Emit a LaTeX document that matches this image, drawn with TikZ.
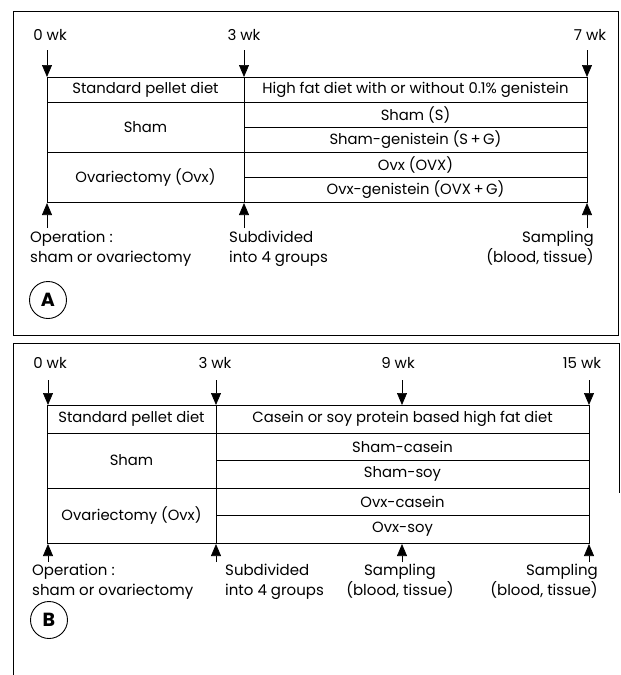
\documentclass[tikz,border=0pt]{standalone}
\usepackage{fontspec}
\setmainfont{Poppins}
\usetikzlibrary{arrows.meta}

\begin{document}
\begin{tikzpicture}[x=1pt,y=-1pt,
  cell/.style={font=\fontsize{14.8}{16}\selectfont, inner sep=0pt},
  lab/.style={font=\fontsize{15}{20}\selectfont, inner sep=0pt},
  tip/.style={-{Triangle[length=12pt,width=10pt]}, line width=0.7pt},
  panel/.style={draw, circle, line width=0.9pt, minimum size=37pt, inner sep=0pt, font=\fontsize{19}{19}\selectfont\bfseries}]
\useasboundingbox (0,0) rectangle (621,675);

% panel A
\draw[line width=0.7pt] (13,11) rectangle (618,335);

\node[lab] (wA0) at (50,35) {0 wk};
\node[lab] (wA3) at (244,35) {3 wk};
\node[lab] (wA7) at (590,35) {7 wk};

\coordinate (tA0) at (47,50);
\coordinate (tA3) at (244,50);
\coordinate (tA7) at (587,50);
\coordinate (hA0) at (47,77);
\coordinate (hA3) at (244,77);
\coordinate (hA7) at (587,77);
\path[draw,tip] (tA0) -- (hA0);
\path[draw,tip] (tA3) -- (hA3);
\path[draw,tip] (tA7) -- (hA7);

\draw[line width=0.8pt] (47,77) rectangle (587,202);
\draw[line width=0.8pt] (244,77) -- (244,202);
\draw[line width=0.8pt] (47,102) -- (587,102);
\draw[line width=0.8pt] (47,152) -- (587,152);
\draw[line width=0.8pt] (244,127) -- (587,127);
\draw[line width=0.8pt] (244,177) -- (587,177);

\node[cell] (dietA) at (145.5,89.5) {Standard pellet diet};
\node[cell] (hfA) at (415.5,89.5) {High fat diet with or without 0.1\% genistein};
\node[cell] (shamA) at (145.5,127) {Sham};
\node[cell] (ovxA) at (145.5,177) {Ovariectomy (Ovx)};
\node[cell] (sA) at (415.5,114.5) {Sham (S)};
\node[cell] (sgA) at (415.5,139.5) {Sham-genistein (S\,+\,G)};
\node[cell] (oA) at (415.5,164.5) {Ovx (OVX)};
\node[cell] (ogA) at (415.5,189.5) {Ovx-genistein (OVX\,+\,G)};

\coordinate (uA0) at (47,228);
\coordinate (uA3) at (244,228);
\coordinate (uA7) at (587,228);
\coordinate (bA0) at (47,203);
\coordinate (bA3) at (244,203);
\coordinate (bA7) at (587,203);
\path[draw,tip] (uA0) -- (bA0);
\path[draw,tip] (uA3) -- (bA3);
\path[draw,tip] (uA7) -- (bA7);

\node[lab, anchor=north west, align=left] (opA) at (30,231) {Operation :\\sham or ovariectomy};
\node[lab, anchor=north west, align=left] (subA) at (229,231) {Subdivided\\into 4 groups};
\node[lab, anchor=north east, align=right] (smpA) at (594,231) {Sampling\\(blood, tissue)};

\node[panel] (A) at (48,300) {A};

% panel B
\draw[line width=0.7pt] (13,675) -- (13,343) -- (619,343) -- (619,493);

\node[lab] (wB0) at (50,363) {0 wk};
\node[lab] (wB3) at (215,363) {3 wk};
\node[lab] (wB9) at (398,363) {9 wk};
\node[lab] (wB15) at (582,363) {15 wk};

\coordinate (tB0) at (48,380);
\coordinate (tB3) at (216,380);
\coordinate (tB9) at (402,380);
\coordinate (tB15) at (589,380);
\coordinate (hB0) at (48,405);
\coordinate (hB3) at (216,405);
\coordinate (hB9) at (402,405);
\coordinate (hB15) at (589,405);
\path[draw,tip] (tB0) -- (hB0);
\path[draw,tip] (tB3) -- (hB3);
\path[draw,tip] (tB9) -- (hB9);
\path[draw,tip] (tB15) -- (hB15);

\draw[line width=0.8pt] (47,405) rectangle (589,543);
\draw[line width=0.8pt] (216,405) -- (216,543);
\draw[line width=0.8pt] (47,433) -- (589,433);
\draw[line width=0.8pt] (47,488) -- (589,488);
\draw[line width=0.8pt] (216,460) -- (589,460);
\draw[line width=0.8pt] (216,515) -- (589,515);

\node[cell] (dietB) at (131.5,419) {Standard pellet diet};
\node[cell] (hfB) at (402.5,419) {Casein or soy protein based high fat diet};
\node[cell] (shamB) at (131.5,460.5) {Sham};
\node[cell] (ovxB) at (131.5,515.5) {Ovariectomy (Ovx)};
\node[cell] (scB) at (402.5,446.5) {Sham-casein};
\node[cell] (ssB) at (402.5,474) {Sham-soy};
\node[cell] (ocB) at (402.5,501.5) {Ovx-casein};
\node[cell] (osB) at (402.5,529) {Ovx-soy};

\coordinate (uB0) at (48,562);
\coordinate (uB3) at (216,562);
\coordinate (uB9) at (402,562);
\coordinate (uB15) at (589,562);
\coordinate (bB0) at (48,544);
\coordinate (bB3) at (216,544);
\coordinate (bB9) at (402,544);
\coordinate (bB15) at (589,544);
\path[draw,tip] (uB0) -- (bB0);
\path[draw,tip] (uB3) -- (bB3);
\path[draw,tip] (uB9) -- (bB9);
\path[draw,tip] (uB15) -- (bB15);

\node[lab, anchor=north west, align=left] (opB) at (32,564) {Operation :\\sham or ovariectomy};
\node[lab, anchor=north west, align=left] (subB) at (225,564) {Subdivided\\into 4 groups};
\node[lab, anchor=north, align=center] (smpB9) at (400,564) {Sampling\\(blood, tissue)};
\node[lab, anchor=north east, align=right] (smpB15) at (598,564) {Sampling\\(blood, tissue)};

\node[panel] (B) at (49,620) {B};
\end{tikzpicture}
\end{document}
